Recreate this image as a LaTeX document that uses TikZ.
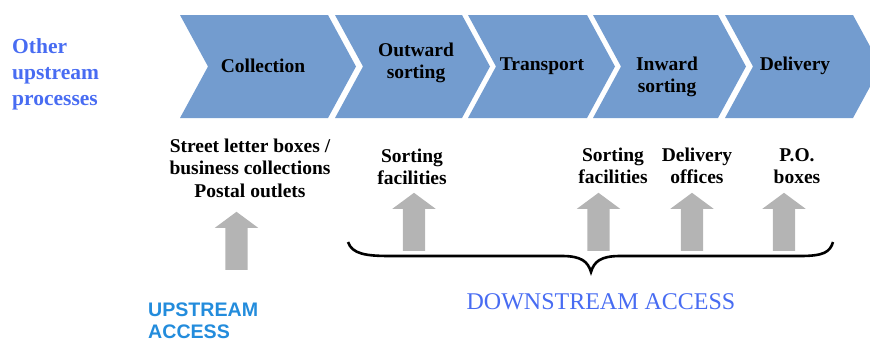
\documentclass[tikz,border=0pt]{standalone}
\usepackage{fontspec}
\setmainfont{Liberation Serif}
\setsansfont{Liberation Sans}
\usetikzlibrary{shapes.arrows}
\definecolor{chevronblue}{RGB}{115,156,207}
\definecolor{procblue}{RGB}{72,108,242}
\definecolor{accessblue}{RGB}{35,140,220}
\definecolor{arrowgray}{RGB}{180,180,180}
\begin{document}
\begin{tikzpicture}[x=1pt, y=-1pt,
    every node/.style={font=\fontsize{19.5}{22.5}\selectfont\bfseries, align=center, inner sep=0pt},
    chevron/.style={fill=chevronblue},
    pointer/.style={single arrow, fill=arrowgray, inner sep=11pt, minimum height=58pt, minimum width=43pt,
        single arrow head extend=10.5pt, single arrow tip angle=107, shape border rotate=90, anchor=tail},
    process/.style={text=procblue, font=\fontsize{21.5}{26}\selectfont\bfseries, align=left},
    upstream/.style={text=accessblue, font=\fontsize{19.6}{22}\selectfont\sffamily\bfseries, align=left},
    downstream/.style={text=procblue, font=\fontsize{24}{26}\selectfont},
    brace/.style={draw, line width=2.6pt}
]
\useasboundingbox (0,0) rectangle (870,338);
% Chevrons
\fill[chevron] (180,15) -- (328,15) -- (356,66.5) -- (328,118) -- (180,118) -- (208,66.5) -- cycle;
\fill[chevron] (335,15) -- (462,15) -- (490,66.5) -- (462,118) -- (335,118) -- (363,66.5) -- cycle;
\fill[chevron] (468,15) -- (587,15) -- (615,66.5) -- (587,118) -- (468,118) -- (496,66.5) -- cycle;
\fill[chevron] (593,15) -- (718,15) -- (746,66.5) -- (718,118) -- (593,118) -- (621,66.5) -- cycle;
\fill[chevron] (725,15) -- (853,15) -- (881,66.5) -- (853,118) -- (725,118) -- (753,66.5) -- cycle;
% Stages
\node (collection) at (263,66) {Collection};
\node (outward) at (416,63) {Outward\\sorting};
\node (transport) at (542,66) {Transport};
\node (inward) at (667,77) {Inward\\sorting};
\node (delivery) at (795,66) {Delivery};
% Other upstream processes
\node[process, anchor=west] (other) at (12,74) {Other\\upstream\\processes};
% Access points
\node (street) at (250,168) {Street letter boxes /\\business collections\\Postal outlets};
\node (sorting1) at (412,167) {Sorting\\facilities};
\node (sorting2) at (613,166) {Sorting\\facilities};
\node (offices) at (697,166) {Delivery\\offices};
\node (boxes) at (797,166) {P.O.\\boxes};
% Arrows
\node[pointer] (uparrow) at (236.5,270) {};
\node[pointer] (arrow1) at (414,251) {};
\node[pointer] (arrow2) at (598.5,251) {};
\node[pointer] (arrow3) at (692,251) {};
\node[pointer] (arrow4) at (784,251) {};
% Brace
\draw[brace] (348,242) .. controls (352,254) and (366,256) .. (390,256) -- (562,256)
    .. controls (582,256) and (588,262) .. (591,272)
    .. controls (594,262) and (600,256) .. (620,256) -- (800,256)
    .. controls (824,256) and (830,252) .. (833,242);
% Access labels
\node[upstream, anchor=west] (upaccess) at (148,321) {UPSTREAM\\ACCESS};
\node[downstream] (downaccess) at (601,302) {DOWNSTREAM ACCESS};
\end{tikzpicture}
\end{document}
